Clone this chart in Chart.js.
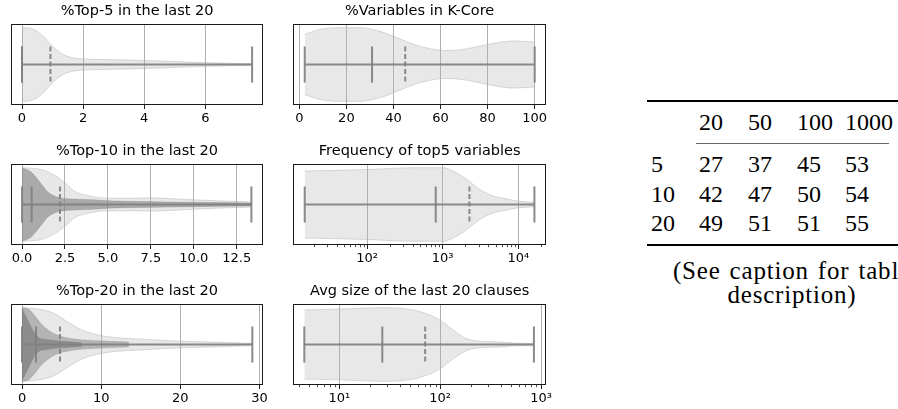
<!DOCTYPE html>
<html><head><meta charset="utf-8">
<script src="https://cdn.jsdelivr.net/npm/chart.js@4"></script>
<style>
html,body{margin:0;padding:0;background:#fff;overflow:hidden;width:898px;height:409px;position:relative;}
.pc{position:absolute;width:275px;height:130px;}
.t{position:absolute;font-family:"Liberation Serif","Times New Roman",serif;font-size:24px;line-height:24px;color:#000;white-space:nowrap;}
.cap{position:absolute;left:592px;width:400px;text-align:center;font-family:"Liberation Serif","Times New Roman",serif;font-size:25px;line-height:25px;letter-spacing:0.8px;word-spacing:2px;white-space:nowrap;color:#000;}
.rule{position:absolute;background:#000;}
</style></head><body>
<div class="pc" style="left:0px;top:0px"><canvas id="c1"></canvas></div>
<div class="pc" style="left:282px;top:0px"><canvas id="c2"></canvas></div>
<div class="pc" style="left:0px;top:140px"><canvas id="c3"></canvas></div>
<div class="pc" style="left:282px;top:140px"><canvas id="c4"></canvas></div>
<div class="pc" style="left:0px;top:280px"><canvas id="c5"></canvas></div>
<div class="pc" style="left:282px;top:280px"><canvas id="c6"></canvas></div>
<div id="table"></div>
<script>
// ---------------- DATA ----------------
// Panel 1: %Top-5 in the last 20
const p1Title = '%Top-5 in the last 20';
const p1X = [0, 0.3, 0.64, 0.96, 1.29, 1.62, 2.05, 3, 4, 5, 6, 7.53];
const p1W = [1.0, 0.98, 0.81, 0.53, 0.30, 0.19, 0.15, 0.13, 0.11, 0.08, 0.05, 0.02];
const p1Stats = [0, 0, 0.93, 7.53];          // min, median, mean, max
const p1Ticks = [0, 2, 4, 6];
const p1TickLabels = ['0', '2', '4', '6'];
const p1Range = [-0.37, 7.9];

// Panel 2: %Variables in K-Core
const p2Title = '%Variables in K-Core';
const p2X = [2.3, 8.8, 17.3, 25.8, 34.3, 41.4, 48.4, 55.5, 62.6, 69.6, 76.7, 83.8, 90.9, 100];
const p2W = [0.82, 0.95, 1.0, 1.0, 0.9, 0.73, 0.55, 0.43, 0.38, 0.41, 0.5, 0.59, 0.64, 0.61];
const p2Stats = [2.3, 30.9, 45, 100];
const p2Ticks = [0, 20, 40, 60, 80, 100];
const p2TickLabels = ['0', '20', '40', '60', '80', '100'];
const p2Range = [-2.55, 104.8];

// Panel 3: %Top-10 in the last 20
const p3Title = '%Top-10 in the last 20';
const p3OuterX = [0, 1.12, 1.9, 2.48, 3.06, 3.84, 5.0, 6.55, 7.5, 9.4, 11.3, 13.35];
const p3OuterW = [1.0, 0.95, 0.79, 0.6, 0.36, 0.24, 0.17, 0.17, 0.18, 0.14, 0.1, 0.07];
const p3InnerX = [0, 0.54, 1.12, 1.51, 2.09, 3.06, 4.2, 5.0, 7, 10, 13.35];
const p3InnerW = [1.0, 0.88, 0.56, 0.34, 0.2, 0.15, 0.13, 0.1, 0.08, 0.06, 0.04];
const p3Stats = [0, 0.56, 2.21, 13.35];
const p3Ticks = [0, 2.5, 5, 7.5, 10, 12.5];
const p3TickLabels = ['0.0', '2.5', '5.0', '7.5', '10.0', '12.5'];
const p3Range = [-0.66, 14.05];

// Panel 4: Frequency of top5 variables (log axis)
const p4Title = 'Frequency of top5 variables';
const p4X = [15, 100, 407, 1000, 1380, 2090, 3090, 4680, 7080, 10000, 16300];
const p4W = [0.91, 0.95, 1.0, 1.0, 0.91, 0.68, 0.41, 0.23, 0.15, 0.09, 0.06];
const p4Stats = [15, 809, 2255, 16300];
const p4Ticks = [100, 1000, 10000];
const p4TickLabels = ['10\u00B2', '10\u00B3', '10\u2074'];
const p4Range = [10.6, 23200];

// Panel 5: %Top-20 in the last 20
const p5Title = '%Top-20 in the last 20';
const p5OuterX = [0, 2.44, 4.1, 5.8, 7.5, 9.6, 12.2, 14.7, 20, 25, 29.1];
const p5OuterW = [1.0, 0.95, 0.84, 0.61, 0.4, 0.26, 0.18, 0.15, 0.09, 0.06, 0.03];
const p5MidX = [0, 0.76, 1.6, 2.44, 3.7, 4.97, 6.67, 8.77, 13.5];
const p5MidW = [1.0, 0.97, 0.79, 0.56, 0.34, 0.22, 0.15, 0.11, 0.07];
const p5InnerX = [0, 0.76, 1.39, 2.03, 3.3, 5.0, 7.55];
const p5InnerW = [0.97, 0.65, 0.38, 0.2, 0.13, 0.09, 0.05];
const p5Stats = [0, 1.77, 4.8, 29.1];
const p5Ticks = [0, 10, 20, 30];
const p5TickLabels = ['0', '10', '20', '30'];
const p5Range = [-1.43, 30.5];

// Panel 6: Avg size of the last 20 clauses (log axis)
const p6Title = 'Avg size of the last 20 clauses';
const p6X = [4.5, 10, 25, 54, 79, 100, 135, 183, 246, 390, 525, 850];
const p6W = [0.94, 0.96, 1.0, 0.94, 0.8, 0.66, 0.39, 0.16, 0.09, 0.07, 0.04, 0.03];
const p6Stats = [4.5, 26.7, 71, 850];
const p6Ticks = [10, 100, 1000];
const p6TickLabels = ['10\u00B9', '10\u00B2', '10\u00B3'];
const p6Range = [3.5, 1120];

// Table
const tblCols = ['20', '50', '100', '1000'];
const tblRows = ['5', '10', '20'];
const tblVals = [
  [27, 37, 45, 53],
  [42, 47, 50, 54],
  [49, 51, 51, 55]
];
const tblCaption = ['(See caption for table', 'description)'];

// ---------------- STYLE ----------------
Chart.defaults.font.family = "'DejaVu Sans', sans-serif";
Chart.defaults.color = '#000';
Chart.defaults.animation = false;

const OUTER = {fill: 'rgba(180,180,180,0.30)', edge: 'rgba(175,175,175,0.45)'};
const MID   = {fill: 'rgba(128,128,128,0.50)', edge: 'rgba(128,128,128,0.25)'};
const INNER3 = {fill: 'rgba(128,128,128,0.60)', edge: 'rgba(128,128,128,0.3)'};
const INNER5 = {fill: 'rgba(110,110,110,0.55)', edge: 'rgba(110,110,110,0.3)'};
const LINE_COLOR = 'rgba(128,128,128,0.92)';
const CAP_H = 0.49;

const statsPlugin = {
  id: 'violinStats',
  afterDatasetsDraw(chart, args, opts) {
    const st = opts.stats;
    if (!st) return;
    const xs = chart.scales.x, ys = chart.scales.y, ctx = chart.ctx;
    const yc = ys.getPixelForValue(0), yt = ys.getPixelForValue(CAP_H), yb = ys.getPixelForValue(-CAP_H);
    ctx.save();
    ctx.strokeStyle = LINE_COLOR;
    ctx.lineWidth = 2;
    ctx.lineCap = 'butt';
    const x0 = xs.getPixelForValue(st[0]), x3 = xs.getPixelForValue(st[3]);
    ctx.beginPath(); ctx.moveTo(x0, yc); ctx.lineTo(x3, yc); ctx.stroke();
    [st[0], st[1], st[3]].forEach(v => {
      const px = xs.getPixelForValue(v);
      ctx.beginPath(); ctx.moveTo(px, yt); ctx.lineTo(px, yb); ctx.stroke();
    });
    ctx.setLineDash([5, 2.5]);
    const pm = xs.getPixelForValue(st[2]);
    ctx.beginPath(); ctx.moveTo(pm, yt); ctx.lineTo(pm, yb); ctx.stroke();
    ctx.restore();
  },
  afterDraw(chart) {
    const ca = chart.chartArea, ctx = chart.ctx, xs = chart.scales.x;
    ctx.save();
    if (xs.type === 'logarithmic') {
      ctx.strokeStyle = '#222';
      ctx.lineWidth = 0.8;
      const d0 = Math.floor(Math.log10(xs.min)), d1 = Math.ceil(Math.log10(xs.max));
      for (let d = d0; d <= d1; d++) {
        for (let k = 2; k <= 9; k++) {
          const v = k * Math.pow(10, d);
          if (v < xs.min || v > xs.max) continue;
          const px = Math.round(xs.getPixelForValue(v)) + 0.5;
          ctx.beginPath(); ctx.moveTo(px, ca.bottom); ctx.lineTo(px, ca.bottom + 2.2); ctx.stroke();
        }
      }
    }
    ctx.strokeStyle = '#1a1a1a';
    ctx.lineWidth = 1;
    const l = Math.round(ca.left) + 0.5, t = Math.round(ca.top) + 0.5;
    const r = Math.round(ca.right) - 0.5, b = Math.round(ca.bottom) - 0.5;
    ctx.strokeRect(l, t, r - l, b - t);
    ctx.restore();
  }
};

function violin(id, title, layers, stats, ticks, tickLabels, range, type, padL, padR) {
  const datasets = [];
  layers.slice().reverse().forEach(L => {
    datasets.push({
      data: L.x.map((v, i) => ({x: v, y: L.w[i]})),
      fill: '+1', backgroundColor: L.style.fill, borderColor: L.style.edge,
      borderWidth: 1, pointRadius: 0, cubicInterpolationMode: 'monotone'
    });
    datasets.push({
      data: L.x.map((v, i) => ({x: v, y: -L.w[i]})),
      fill: false, borderColor: L.style.edge,
      borderWidth: 1, pointRadius: 0, cubicInterpolationMode: 'monotone'
    });
  });
  new Chart(document.getElementById(id), {
    type: 'line',
    data: {datasets},
    plugins: [statsPlugin],
    options: {
      responsive: true, maintainAspectRatio: false, devicePixelRatio: 1,
      animation: false,
      layout: {padding: {left: padL, right: padR, top: 0, bottom: 0}},
      plugins: {
        legend: {display: false}, tooltip: {enabled: false},
        title: {display: true, text: title, color: '#000',
          font: {size: 14.5, weight: 'normal'}, padding: {top: 2.3, bottom: 4.3}},
        violinStats: {stats}
      },
      scales: {
        x: {
          type, min: range[0], max: range[1], bounds: 'data', position: 'bottom',
          afterBuildTicks: s => { s.ticks = ticks.map(v => ({value: v})); },
          afterFit: s => { s.height = 25; },
          grid: {color: '#b0b0b0', lineWidth: 1, tickColor: '#222', tickLength: 4, drawOnChartArea: true},
          border: {display: false},
          ticks: {color: '#000', font: {size: 13}, padding: 2, maxRotation: 0, autoSkip: false,
            callback: (v, i) => tickLabels[i]}
        },
        y: {display: false, min: -1.1, max: 1.1}
      }
    }
  });
}

violin('c1', p1Title, [{x: p1X, w: p1W, style: OUTER}], p1Stats, p1Ticks, p1TickLabels, p1Range, 'linear', 10.7, 11.6);
violin('c2', p2Title, [{x: p2X, w: p2W, style: OUTER}], p2Stats, p2Ticks, p2TickLabels, p2Range, 'linear', 11.3, 11);
violin('c3', p3Title, [{x: p3OuterX, w: p3OuterW, style: OUTER}, {x: p3InnerX, w: p3InnerW, style: INNER3}],
  p3Stats, p3Ticks, p3TickLabels, p3Range, 'linear', 10.7, 11.6);
violin('c4', p4Title, [{x: p4X, w: p4W, style: OUTER}], p4Stats, p4Ticks, p4TickLabels, p4Range, 'logarithmic', 11.3, 11);
violin('c5', p5Title, [{x: p5OuterX, w: p5OuterW, style: OUTER}, {x: p5MidX, w: p5MidW, style: MID},
  {x: p5InnerX, w: p5InnerW, style: INNER5}], p5Stats, p5Ticks, p5TickLabels, p5Range, 'linear', 10.7, 11.6);
violin('c6', p6Title, [{x: p6X, w: p6W, style: OUTER}], p6Stats, p6Ticks, p6TickLabels, p6Range, 'logarithmic', 11.3, 11);

// ---------------- TABLE (HTML text) ----------------
(function () {
  const host = document.getElementById('table');
  const colX = [699, 748, 797, 845];
  const labelX = 651;
  const headTop = 110.4;
  const rowTops = [151.9, 181.9, 211.4];
  let html = '';
  html += '<div class="rule" style="left:647px;top:100px;width:260px;height:2px"></div>';
  html += '<div class="rule" style="left:696px;top:142.5px;width:193px;height:1.3px;background:#666"></div>';
  html += '<div class="rule" style="left:647px;top:244px;width:260px;height:2px"></div>';
  tblCols.forEach((c, j) => { html += `<div class="t" style="left:${colX[j]}px;top:${headTop}px">${c}</div>`; });
  tblRows.forEach((r, i) => {
    html += `<div class="t" style="left:${labelX}px;top:${rowTops[i]}px">${r}</div>`;
    tblVals[i].forEach((v, j) => { html += `<div class="t" style="left:${colX[j]}px;top:${rowTops[i]}px">${v}</div>`; });
  });
  html += `<div class="cap" style="top:258px">${tblCaption[0]}</div>`;
  html += `<div class="cap" style="top:282px">${tblCaption[1]}</div>`;
  host.innerHTML = html;
})();
</script>
</body></html>
